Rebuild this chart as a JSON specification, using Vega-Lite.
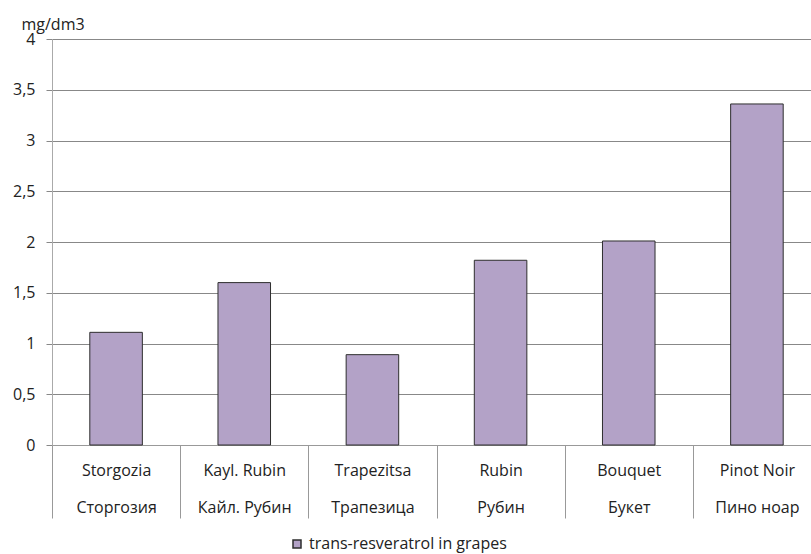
{
  "$schema": "https://vega.github.io/schema/vega-lite/v6.json",
  "width": 759,
  "height": 406,
  "autosize": "none",
  "padding": {"left": 52, "top": 39, "right": 0, "bottom": 109},
  "background": "white",
  "config": {"view": {"stroke": null}, "font": "Open Sans"},
  "data": {
    "values": [
      {"cat": "Storgozia|Сторгозия", "value": 1.11, "series": "trans-resveratrol in grapes"},
      {"cat": "Kayl. Rubin|Кайл. Рубин", "value": 1.6, "series": "trans-resveratrol in grapes"},
      {"cat": "Trapezitsa|Трапезица", "value": 0.89, "series": "trans-resveratrol in grapes"},
      {"cat": "Rubin|Рубин", "value": 1.82, "series": "trans-resveratrol in grapes"},
      {"cat": "Bouquet|Букет", "value": 2.01, "series": "trans-resveratrol in grapes"},
      {"cat": "Pinot Noir|Пино ноар", "value": 3.36, "series": "trans-resveratrol in grapes"}
    ]
  },
  "mark": {"type": "bar", "stroke": "#2e2e2e", "strokeWidth": 1, "width": {"band": 0.41}},
  "encoding": {
    "x": {
      "field": "cat",
      "type": "nominal",
      "sort": null,
      "scale": {"range": [0, 769], "paddingInner": 0, "paddingOuter": 0},
      "axis": {
        "title": null,
        "labelExpr": "split(datum.label, '|')",
        "labelAngle": 0,
        "labelBaseline": "alphabetic",
        "labelLineHeight": 37,
        "labelPadding": -43,
        "labelOverlap": false,
        "labelLimit": 300,
        "tickBand": "extent",
        "tickSize": 73,
        "tickColor": "#999999",
        "domainColor": "#999999",
        "labelFont": "Open Sans",
        "labelFontSize": 16,
        "labelColor": "#222222",
        "grid": false
      }
    },
    "y": {
      "field": "value",
      "type": "quantitative",
      "scale": {"domain": [0, 4], "nice": false},
      "axis": {
        "values": [0, 0.5, 1, 1.5, 2, 2.5, 3, 3.5, 4],
        "labelExpr": "replace(format(datum.value, '.1~f'), '.', ',')",
        "title": "mg/dm3",
        "titleAngle": 0,
        "titleAlign": "left",
        "titleBaseline": "alphabetic",
        "titleX": -31,
        "titleY": -10,
        "titleFont": "Open Sans",
        "titleFontSize": 16,
        "titleFontWeight": "normal",
        "titleColor": "#222222",
        "grid": true,
        "gridColor": "#888888",
        "domainColor": "#aaaaaa",
        "tickColor": "#888888",
        "tickSize": 6,
        "labelPadding": 11,
        "labelFont": "Open Sans",
        "labelFontSize": 16,
        "labelColor": "#222222"
      }
    },
    "color": {
      "field": "series",
      "type": "nominal",
      "scale": {"range": ["#b3a2c7"]},
      "legend": {
        "title": null,
        "orient": "none",
        "legendX": 237,
        "legendY": 497,
        "padding": 0,
        "symbolType": "square",
        "symbolSize": 64,
        "labelFont": "Open Sans",
        "labelFontSize": 16,
        "labelColor": "#222222",
        "labelOffset": 4,
        "labelLimit": 400,
        "encode": {"symbols": {"update": {"stroke": {"value": "#555555"}, "strokeWidth": {"value": 1}}}}
      }
    }
  }
}
